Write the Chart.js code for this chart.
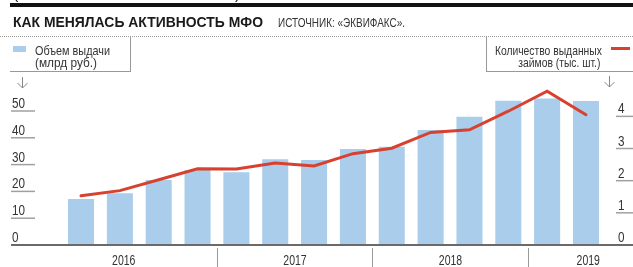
<!DOCTYPE html>
<html>
<head>
<meta charset="utf-8">
<script src="https://cdn.jsdelivr.net/npm/chart.js@4/dist/chart.umd.min.js"></script>
<style>
  html, body { margin: 0; padding: 0; background: #fff; }
  #wrap { position: relative; width: 633px; height: 267px; overflow: hidden;
          font-family: 'Liberation Sans', Arial, sans-serif; color: #333; }
  #c { position: absolute; left: 0; top: 0; }
  .abs { position: absolute; white-space: nowrap; }
  .fit { transform-origin: 0 0; }
  .fitR { transform-origin: 100% 0; }
  #band { left: 10px; top: 3px; width: 623px; height: 4px; background: #111; }
  .cut { top: -14px; font-size: 16px; line-height: 16px; color: #222; }
  #title { left: 13px; top: 14px; font-size: 15px; line-height: 15px; font-weight: bold; color: #1a1a1a; }
  #src { left: 278px; top: 17px; font-size: 12.5px; line-height: 12.5px; color: #333; }
  #dots { left: 0; top: 36px; width: 633px; height: 0; border-top: 1px dotted #999; }
  .lg { font-size: 13.5px; line-height: 13.5px; color: #333; }
  #swL { left: 13px; top: 46px; width: 13px; height: 6px; background: #a9cdea; }
  #swR { left: 611px; top: 47px; width: 19px; height: 3px; background: #d8412f; }
  #boxL { left: 10px; top: 37px; width: 120px; height: 34px; border-right: 1px solid #999; border-bottom: 1px solid #999; }
  #boxR { left: 486px; top: 37px; width: 160px; height: 34px; border-left: 1px solid #999; border-bottom: 1px solid #999; }
</style>
</head>
<body>
<div id="wrap">
  <canvas id="c" width="633" height="267"></canvas>
  <div class="abs cut" style="left:13px">(</div>
  <div class="abs cut" style="left:235px">)</div>
  <div class="abs" id="band"></div>
  <div class="abs fit" id="title" data-w="250">КАК МЕНЯЛАСЬ АКТИВНОСТЬ МФО</div>
  <div class="abs fit" id="src" data-w="127">ИСТОЧНИК: «ЭКВИФАКС».</div>
  <div class="abs" id="dots"></div>
  <div class="abs" id="boxL"></div>
  <div class="abs" id="boxR"></div>
  <div class="abs" id="swL"></div>
  <div class="abs" id="swR"></div>
  <div class="abs lg fit" style="left:35px; top:44px" data-w="75">Объем выдачи</div>
  <div class="abs lg fit" style="left:35px; top:56px" data-w="62">(млрд руб.)</div>
  <div class="abs lg fitR" style="right:31px; top:44px" data-w="107">Количество выданных</div>
  <div class="abs lg fitR" style="right:33px; top:56px" data-w="82">займов (тыс. шт.)</div>
</div>
<script>
// квартальные данные, 2016 - первое полугодие 2019
const quarters = ['I 2016', 'II 2016', 'III 2016', 'IV 2016',
                  'I 2017', 'II 2017', 'III 2017', 'IV 2017',
                  'I 2018', 'II 2018', 'III 2018', 'IV 2018',
                  'I 2019', 'II 2019'];
const years = ['2016', '2017', '2018', '2019'];
const yearSizes = [4, 4, 4, 2];
// объем выдачи, млрд руб.
const volume = [17.2, 19.3, 24.3, 28.0, 27.1, 32.0, 31.7, 35.8, 36.7, 42.9, 47.9, 53.8, 54.7, 53.7];
// количество выданных займов, тыс. шт.
const loans = [1.53, 1.69, 2.03, 2.37, 2.36, 2.55, 2.46, 2.84, 3.01, 3.50, 3.58, 4.16, 4.78, 4.05];
const leftTicks = [0, 10, 20, 30, 40, 50];
const rightTicks = [0, 1, 2, 3, 4];

// узкий шрифт: сжимаем обычный по горизонтали
document.querySelectorAll('[data-w]').forEach(el => {
    const w = el.getBoundingClientRect().width;
    el.style.transform = 'scaleX(' + (parseFloat(el.dataset.w) / w) + ')';
});

function narrowText(ctx, text, x, y, sx, align) {
    ctx.save();
    ctx.translate(x, y);
    ctx.scale(sx, 1);
    ctx.textAlign = align || 'left';
    ctx.fillText(text, 0, 0);
    ctx.restore();
}

const decor = {
    id: 'decor',
    afterDraw(chart) {
        const ctx = chart.ctx;
        const x = chart.scales.x, y = chart.scales.y, y2 = chart.scales.y2;
        ctx.save();
        ctx.font = "15px 'Liberation Sans', Arial, sans-serif";
        ctx.fillStyle = '#333';
        ctx.textBaseline = 'alphabetic';
        ctx.strokeStyle = '#a0a0a0';
        ctx.lineWidth = 1.5;
        // левая шкала
        leftTicks.forEach(v => {
            const py = y.getPixelForValue(v);
            if (v > 0) { ctx.beginPath(); ctx.moveTo(11, py); ctx.lineTo(35, py); ctx.stroke(); }
            narrowText(ctx, String(v), 12, py - 3, 0.78);
        });
        // правая шкала
        rightTicks.forEach(v => {
            const py = y2.getPixelForValue(v);
            if (v > 0) { ctx.beginPath(); ctx.moveTo(616, py); ctx.lineTo(633, py); ctx.stroke(); }
            narrowText(ctx, String(v), 618, py - 3, 0.78);
        });
        // базовая линия
        const by = y.getPixelForValue(0);
        ctx.strokeStyle = '#6a6a6a';
        ctx.lineWidth = 2;
        ctx.beginPath(); ctx.moveTo(11, by); ctx.lineTo(633, by); ctx.stroke();
        // разделители лет и подписи
        ctx.lineWidth = 1;
        ctx.strokeStyle = '#999';
        let idx = 0;
        const seps = [];
        yearSizes.forEach((n, k) => {
            idx += n;
            if (k < yearSizes.length - 1) {
                const sx = Math.round((x.getPixelForValue(idx - 1) + x.getPixelForValue(idx)) / 2) + 0.5;
                seps.push(sx);
                ctx.beginPath(); ctx.moveTo(sx, by + 3); ctx.lineTo(sx, 267); ctx.stroke();
            }
        });
        const bounds = [30].concat(seps).concat([648]);
        years.forEach((yr, k) => {
            narrowText(ctx, yr, (bounds[k] + bounds[k + 1]) / 2, 265, 0.7, 'center');
        });
        // стрелки
        [[22, 77], [609, 76]].forEach(([ax, ay]) => {
            ctx.strokeStyle = '#888';
            ctx.beginPath();
            ctx.moveTo(ax + 0.5, ay); ctx.lineTo(ax + 0.5, ay + 11);
            ctx.moveTo(ax - 4.5, ay + 6); ctx.lineTo(ax + 0.5, ay + 11); ctx.lineTo(ax + 5.5, ay + 6);
            ctx.stroke();
        });
        ctx.restore();
    }
};

new Chart(document.getElementById('c'), {
    type: 'bar',
    data: {
        labels: quarters,
        datasets: [
            {
                type: 'line',
                label: 'Количество выданных займов (тыс. шт.)',
                data: loans,
                yAxisID: 'y2',
                borderColor: '#d8412f',
                borderWidth: 3,
                pointRadius: 0,
                tension: 0,
                borderCapStyle: 'round',
                order: 0
            },
            {
                label: 'Объем выдачи (млрд руб.)',
                data: volume,
                yAxisID: 'y',
                backgroundColor: '#a9cdea',
                barPercentage: 0.67,
                categoryPercentage: 1,
                order: 1
            }
        ]
    },
    options: {
        responsive: false,
        animation: false,
        layout: { padding: { left: 61.6, right: 27.6, top: 84.2, bottom: 22 } },
        plugins: { legend: { display: false }, tooltip: { enabled: false } },
        scales: {
            x: { display: false },
            y: { display: false, min: 0, max: 60 },
            y2: { display: false, min: 0, max: 5, position: 'right' }
        }
    },
    plugins: [decor]
});
</script>
</body>
</html>
